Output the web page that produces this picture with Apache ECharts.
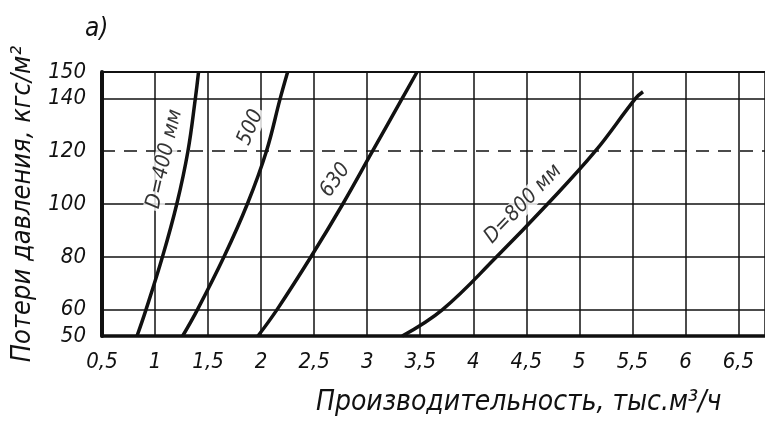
<!DOCTYPE html>
<html>
<head>
<meta charset="utf-8">
<script src="https://cdn.jsdelivr.net/npm/echarts@6/dist/echarts.min.js"></script>
<style>
  html, body { margin: 0; padding: 0; background: #fff; }
  #chart { width: 765px; height: 426px; }
</style>
</head>
<body>
<div id="chart"></div>
<script>
// pressure levels that carry a grid line and a label
const pressureTicks = [50, 60, 80, 100, 120, 140, 150];
const dashedLevel = 120;

// curves: flow (thousand m3/h) read at each pressure level
const lossLevels = [50, 60, 80, 100, 120, 140, 150];
const d400Flow = [0.83, 0.915, 1.07, 1.205, 1.31, 1.38, 1.41];
const d500Flow = [1.26, 1.40, 1.65, 1.87, 2.05, 2.18, 2.25];
const d630Flow = [1.97, 2.15, 2.47, 2.77, 3.05, 3.33, 3.47];
const d800Flow = [3.33, 3.71, 4.22, 4.70, 5.15, 5.53, 5.60];
const d800Loss = [50, 60, 80, 100, 120, 140, 142.5];

// curve captions
const captionText = ['D=400 мм', '500', '630', 'D=800 мм'];
const captionFlow = [1.09, 1.90, 2.70, 4.47];
const captionLoss = [117, 129, 109, 100];
const captionAngle = [77, 67, 54, 46];

const font = "'DejaVu Sans Condensed', 'DejaVu Sans', sans-serif";
const ink = '#111';

const pairs = (xs, ys) => xs.map((x, i) => [x, ys[i]]);

function curve(name, data) {
    return {
        name: name,
        type: 'line',
        data: data,
        smooth: 0.4,
        symbol: 'none',
        lineStyle: { color: ink, width: 3.5 },
        z: 5
    };
}

const chart = echarts.init(document.getElementById('chart'));
chart.setOption({
    backgroundColor: '#fff',
    animation: false,
    title: {
        text: 'а)',
        left: 80,
        top: 11,
        textStyle: { fontFamily: font, fontStyle: 'italic', fontWeight: 'normal', fontSize: 26, color: ink }
    },
    grid: { left: 102, top: 72, right: 0, bottom: 90 },
    xAxis: {
        type: 'value',
        min: 0.5,
        max: 6.75,
        interval: 0.5,
        axisLine: { show: true, lineStyle: { color: ink, width: 3.5 } },
        axisTick: { show: false },
        splitLine: { show: true, lineStyle: { color: ink, width: 1.5 } },
        axisLabel: {
            margin: 15,
            color: ink,
            fontFamily: font,
            fontStyle: 'italic',
            fontSize: 22,
            formatter: v => String(v).replace('.', ',')
        }
    },
    yAxis: {
        type: 'value',
        min: 50,
        max: 150,
        interval: 10,
        name: 'Потери давления, кгс/м²',
        nameLocation: 'middle',
        nameGap: 66,
        nameTextStyle: { color: ink, fontFamily: font, fontStyle: 'italic', fontSize: 27 },
        axisLine: { show: true, lineStyle: { color: ink, width: 4 } },
        axisTick: { show: false },
        splitLine: { show: false },
        axisLabel: {
            margin: 16,
            color: ink,
            fontFamily: font,
            fontStyle: 'italic',
            fontSize: 22,
            formatter: v => pressureTicks.includes(v) ? String(v) : ''
        }
    },
    graphic: [{
        type: 'text',
        left: 316,
        top: 389,
        style: {
            text: 'Производительность, тыс.м³/ч',
            fill: ink,
            font: 'italic 28px ' + font
        }
    }],
    series: [
        Object.assign(curve('D400', pairs(d400Flow, lossLevels)), {
            markLine: {
                silent: true,
                symbol: 'none',
                label: { show: false },
                data: pressureTicks.map(v => ({
                    yAxis: v,
                    lineStyle: {
                        color: ink,
                        width: v === 150 ? 2 : 1.5,
                        type: v === dashedLevel ? [13, 9] : 'solid'
                    }
                }))
            }
        }),
        curve('D500', pairs(d500Flow, lossLevels)),
        curve('D630', pairs(d630Flow, lossLevels)),
        curve('D800', pairs(d800Flow, d800Loss)),
        {
            name: 'captions',
            type: 'scatter',
            symbolSize: 0,
            z: 6,
            data: captionText.map((t, i) => ({
                value: [captionFlow[i], captionLoss[i]],
                label: {
                    show: true,
                    position: 'inside',
                    rotate: captionAngle[i],
                    formatter: t,
                    color: '#000',
                    fontFamily: font,
                    fontStyle: 'italic',
                    fontSize: 21,
                    backgroundColor: '#fff',
                    padding: [0, 2]
                }
            }))
        }
    ]
});
</script>
</body>
</html>
